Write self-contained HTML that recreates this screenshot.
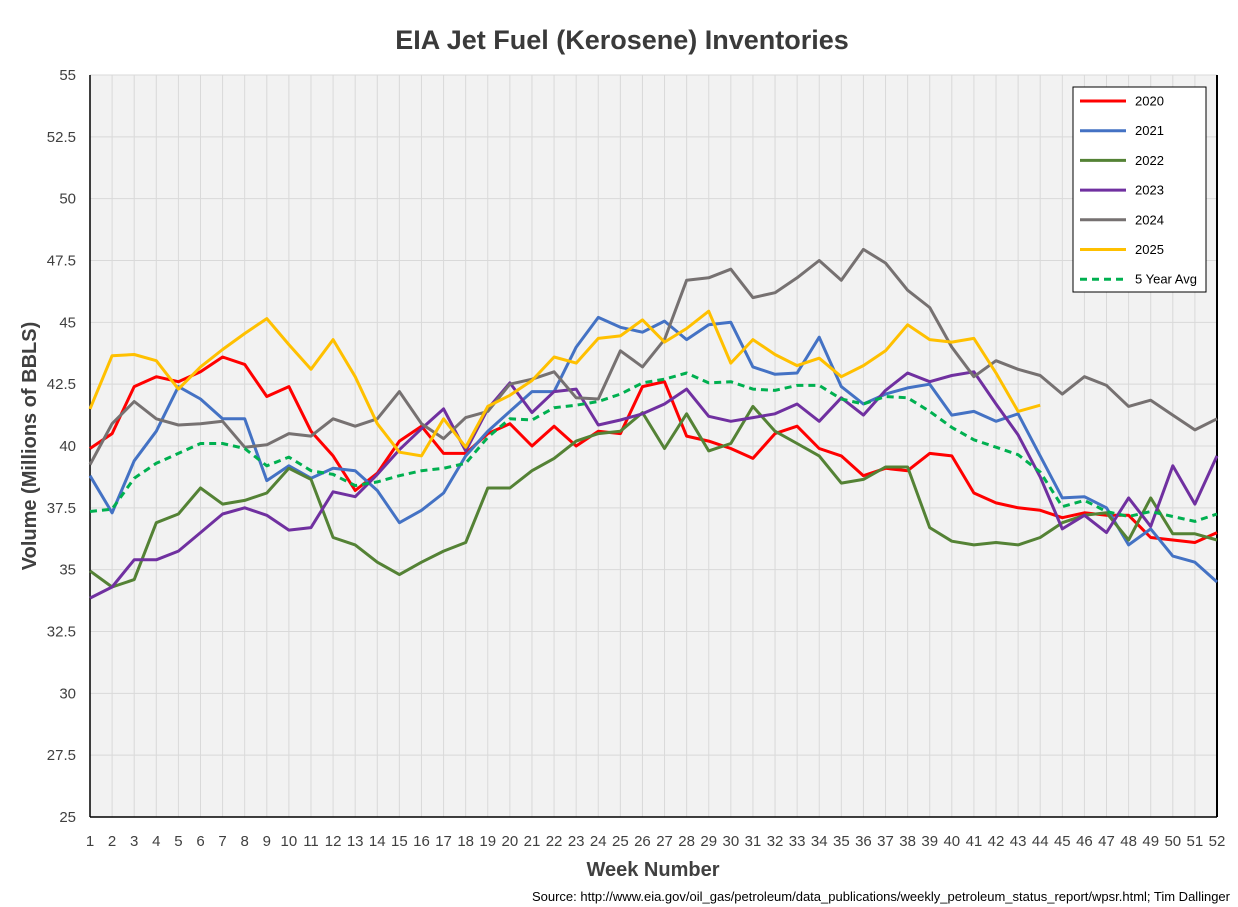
<!DOCTYPE html>
<html><head><meta charset="utf-8"><style>
body{margin:0;background:#fff;font-family:"Liberation Sans",sans-serif}
svg{display:block}
</style></head><body>
<svg id="c" width="1238" height="907" xmlns="http://www.w3.org/2000/svg"></svg>
<script>
const weeks=Array.from({length:52},(_,i)=>i+1);
const yTicks=[25,27.5,30,32.5,35,37.5,40,42.5,45,47.5,50,52.5,55];
const s2020=[39.9,40.5,42.4,42.8,42.6,43.0,43.6,43.3,42.0,42.4,40.6,39.6,38.2,38.9,40.2,40.8,39.7,39.7,40.5,40.9,40.0,40.8,40.0,40.6,40.5,42.4,42.6,40.4,40.2,39.9,39.5,40.5,40.8,39.9,39.6,38.8,39.1,39.0,39.7,39.6,38.1,37.7,37.5,37.4,37.1,37.3,37.2,37.2,36.3,36.2,36.1,36.5];
const s2021=[38.8,37.3,39.4,40.6,42.4,41.9,41.1,41.1,38.6,39.2,38.7,39.1,39.0,38.2,36.9,37.4,38.1,39.6,40.6,41.4,42.2,42.2,44.0,45.2,44.8,44.6,45.05,44.3,44.9,45.0,43.2,42.9,42.95,44.4,42.4,41.7,42.1,42.35,42.5,41.25,41.4,41.0,41.3,39.6,37.9,37.95,37.5,36.0,36.65,35.55,35.3,34.5];
const s2022=[34.95,34.3,34.6,36.9,37.25,38.3,37.65,37.8,38.1,39.1,38.65,36.3,36.0,35.3,34.8,35.3,35.75,36.1,38.3,38.3,39.0,39.5,40.2,40.5,40.6,41.35,39.9,41.3,39.8,40.1,41.6,40.6,40.1,39.6,38.5,38.65,39.15,39.15,36.7,36.15,36.0,36.1,36.0,36.3,36.9,37.2,37.3,36.2,37.9,36.45,36.45,36.2];
const s2023=[33.85,34.3,35.4,35.4,35.75,36.5,37.25,37.5,37.2,36.6,36.7,38.15,37.95,38.85,39.85,40.7,41.5,39.8,41.5,42.55,41.35,42.2,42.3,40.85,41.05,41.3,41.7,42.3,41.2,41.0,41.15,41.3,41.7,41.0,41.95,41.25,42.25,42.95,42.6,42.85,43.0,41.7,40.45,38.75,36.65,37.2,36.5,37.9,36.75,39.2,37.65,39.6];
const s2024=[39.25,40.9,41.8,41.1,40.85,40.9,41.0,39.95,40.05,40.5,40.4,41.1,40.8,41.1,42.2,40.9,40.3,41.15,41.4,42.5,42.7,43.0,41.95,41.9,43.85,43.2,44.3,46.7,46.8,47.15,46.0,46.2,46.8,47.5,46.7,47.95,47.4,46.3,45.6,44.0,42.8,43.45,43.1,42.85,42.1,42.8,42.45,41.6,41.85,41.25,40.65,41.1];
const s2025=[41.5,43.65,43.7,43.45,42.3,43.2,43.9,44.55,45.15,44.1,43.1,44.3,42.8,40.9,39.75,39.6,41.1,39.95,41.6,42.05,42.65,43.6,43.35,44.35,44.45,45.1,44.2,44.75,45.45,43.35,44.3,43.7,43.25,43.55,42.8,43.25,43.85,44.9,44.3,44.2,44.35,42.95,41.4,41.65];
const s5yr=[37.35,37.45,38.7,39.3,39.7,40.1,40.1,39.9,39.2,39.55,39.0,38.85,38.4,38.55,38.8,39.0,39.1,39.3,40.35,41.1,41.05,41.55,41.65,41.8,42.1,42.55,42.7,42.95,42.55,42.6,42.3,42.25,42.45,42.45,41.9,41.7,42.0,41.95,41.4,40.75,40.25,39.95,39.65,38.95,37.55,37.8,37.35,37.15,37.35,37.15,36.95,37.25];
const seriesNames=["2020","2021","2022","2023","2024","2025","5 Year Avg"];

const svg=document.getElementById('c');
const NS="http://www.w3.org/2000/svg";
const L=90,R=1217,T=75,B=817,ymin=25,ymax=55;
const xs=w=>L+(w-1)*(R-L)/51;
const ys=v=>B-(v-ymin)/(ymax-ymin)*(B-T);
function el(tag,attrs,parent){const e=document.createElementNS(NS,tag);for(const k in attrs)e.setAttribute(k,attrs[k]);(parent||svg).appendChild(e);return e;}

const title=el('text',{x:622,y:49,'text-anchor':'middle','font-size':27,'font-weight':'bold',fill:'#3a3a3a','font-family':'Liberation Sans'});
title.textContent="EIA Jet Fuel (Kerosene) Inventories";



const plot=el('rect',{x:L,y:T,width:R-L,height:B-T,fill:'#f2f2f2'});



const grid=el('g',{stroke:'#d9d9d9','stroke-width':1});


weeks.forEach(w=>{el('line',{x1:xs(w),x2:xs(w),y1:T,y2:B},grid);});
yTicks.forEach(v=>{el('line',{x1:L,x2:R,y1:ys(v),y2:ys(v)},grid);});

yTicks.forEach(v=>{
  const t=el('text',{x:76,y:ys(v)+5,'text-anchor':'end','font-size':15,fill:'#404040'});
  t.textContent=String(v);
  
  
});
weeks.forEach(w=>{
  const t=el('text',{x:xs(w),y:846,'text-anchor':'middle','font-size':15,fill:'#404040'});
  t.textContent=String(w);
  
  
});
el('line',{x1:L,x2:L,y1:T,y2:B,stroke:'#000','stroke-width':1.5});
el('line',{x1:R,x2:R,y1:T,y2:B,stroke:'#000','stroke-width':2});
el('line',{x1:L,x2:R,y1:B,y2:B,stroke:'#000','stroke-width':1.5});

const xt=el('text',{x:653,y:876,'text-anchor':'middle','font-size':20,'font-weight':'bold',fill:'#404040'});
xt.textContent="Week Number";


const yt=el('text',{x:0,y:0,'text-anchor':'middle','font-size':20,'font-weight':'bold',fill:'#404040',transform:'translate(36,446) rotate(-90)'});
yt.textContent="Volume (Millions of BBLS)";


const src=el('text',{x:1230,y:901,'text-anchor':'end','font-size':13,fill:'#000'});
src.textContent="Source: http://www.eia.gov/oil_gas/petroleum/data_publications/weekly_petroleum_status_report/wpsr.html; Tim Dallinger";



const colors=['#ff0000','#4472c4','#548235','#7030a0','#767171','#ffc000','#00b050'];
const data=[s2020,s2021,s2022,s2023,s2024,s2025,s5yr];
data.forEach((arr,i)=>{
  const pts=arr.map((v,j)=>xs(weeks[j]).toFixed(1)+','+ys(v).toFixed(1)).join(' ');
  const p=el('polyline',{points:pts,fill:'none',stroke:colors[i],'stroke-width':3,'stroke-linejoin':'round'});
  if(i===6){p.setAttribute('stroke-dasharray','7,5');}
  
  
});

const lg=el('g',{});


el('rect',{x:1073,y:87,width:133,height:205,fill:'#fff',stroke:'#000','stroke-width':1},lg);
seriesNames.forEach((n,i)=>{
  const y=101+i*29.7;
  const ln=el('line',{x1:1080,x2:1126,y1:y,y2:y,stroke:colors[i],'stroke-width':3},lg);
  if(i===6)ln.setAttribute('stroke-dasharray','7,5');
  const t=el('text',{x:1135,y:y+4.5,'font-size':13,fill:'#000'},lg);
  t.textContent=n;
  
  
});
</script>
</body></html>
